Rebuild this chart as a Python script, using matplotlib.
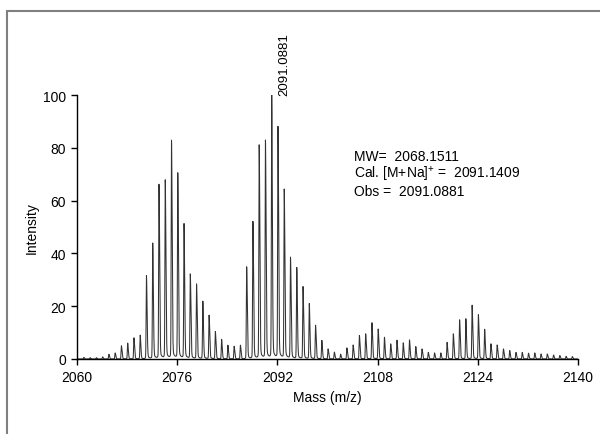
import numpy as np
import matplotlib.pyplot as plt
from matplotlib.patches import Rectangle

plt.rcParams['font.family'] = ['Liberation Sans', 'DejaVu Sans']
plt.rcParams['mathtext.fontset'] = 'custom'
plt.rcParams['mathtext.rm'] = 'Liberation Sans'

# peak apex heights (relative intensity), one per nominal mass 2061..2139
start_mass = 2061.09
heights = [
    0.6, 0.5, 0.5, 0.8, 1.8, 2.3, 5.0, 6.0, 8.0, 9.0,          # 2061-2070
    31.6, 43.8, 66.0, 67.6, 82.6, 70.2, 51.0, 32.0, 28.3, 21.8,  # 2071-2080
    16.5, 10.3, 7.4, 5.2, 4.8, 5.2, 34.9, 52.0, 80.9, 82.6,      # 2081-2090
    100.0, 87.7, 64.0, 38.3, 34.5, 27.3, 20.9, 12.7, 7.0, 3.8,   # 2091-2100
    2.6, 1.8, 4.2, 5.3, 8.9, 9.5, 13.7, 11.3, 8.2, 5.7,          # 2101-2110
    7.1, 6.1, 7.2, 4.7, 3.8, 2.5, 2.3, 2.3, 6.3, 9.5,            # 2111-2120
    14.8, 15.2, 20.3, 16.7, 11.2, 5.7, 5.3, 3.8, 3.2, 2.5,       # 2121-2130
    2.5, 2.2, 2.3, 1.9, 1.9, 1.5, 1.3, 1.0, 0.9,                 # 2131-2139
]
peak_mass = start_mass + np.arange(len(heights))

x_ticks = [2060, 2076, 2092, 2108, 2124, 2140]
y_ticks = [0, 20, 40, 60, 80, 100]
label_lines = ["MW=  2068.1511", r"Cal. [M+Na]$^{\rm{+}}$ =  2091.1409", "Obs =  2091.0881"]

# profile line built from the peak list (narrow peaks with a short right tail)
mz = np.linspace(2060, 2140, 8001)
profile = np.zeros_like(mz)
for m, h in zip(peak_mass, heights):
    d = mz - m
    sig = np.where(d < 0, 0.05, 0.1)
    tail = np.where(d < 0, np.exp(d / 0.12), np.exp(-d / 0.4))
    profile += h * (np.exp(-0.5 * (d / sig) ** 2) * 0.95 + 0.05 * tail)

fig = plt.figure(figsize=(6, 4.35), dpi=100)
fig.patches.append(Rectangle((7 / 600, -0.1), 1.2, (435 - 12) / 435 + 0.1,
                             transform=fig.transFigure, fill=False,
                             edgecolor='#7f7f7f', linewidth=1.5))
ax = fig.add_axes([77 / 600, (435 - 360) / 435, 501 / 600, 264 / 435])
ax.plot(mz, profile, color='#333333', linewidth=0.75)

ax.set_xlim(2060, 2140)
ax.set_ylim(0, 100)
ax.set_xticks(x_ticks)
ax.set_yticks(y_ticks)
ax.tick_params(direction='out', length=4, width=1, labelsize=10, pad=4)
for s in ['top', 'right']:
    ax.spines[s].set_visible(False)
ax.spines['left'].set_linewidth(1)
ax.spines['bottom'].set_linewidth(1)
ax.set_xlabel("Mass (m/z)", fontsize=10, labelpad=4)
ax.set_ylabel("Intensity", fontsize=10, labelpad=3)

ax.annotate("2091.0881", xy=(2091.09, 100), xytext=(5, 0), textcoords='offset points',
            rotation=90, ha='left', va='bottom', fontsize=9.5, annotation_clip=False)
for i, t in enumerate(label_lines):
    fig.text(354 / 600, 1 - (157 + 17.5 * i) / 435, t, fontsize=10, va='center', ha='left')

fig.savefig("out.png", dpi=100)
